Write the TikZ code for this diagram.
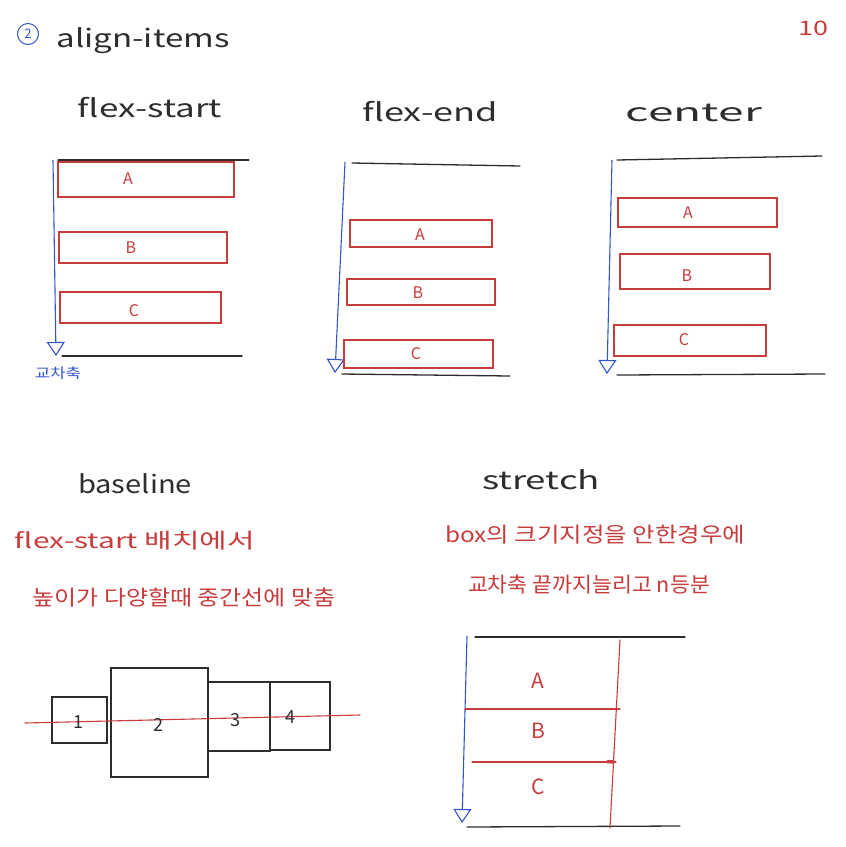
\documentclass[tikz,border=0pt]{standalone}
\usepackage{fontspec}
\usepackage{graphicx}
\setmainfont{Noto Sans CJK KR}
\usetikzlibrary{arrows.meta}
\definecolor{pen}{RGB}{45,45,45}
\definecolor{redp}{RGB}{200,60,60}
\definecolor{bluep}{RGB}{50,85,200}
\newcommand{\fitx}[2]{\resizebox{#1pt}{\height}{#2}}
\tikzset{
  blk/.style={draw=pen,line width=1.3pt,line cap=round},
  redl/.style={draw=redp,line width=1.1pt,line cap=round},
  rbox/.style={draw=redp,line width=1.1pt,inner sep=0pt},
  kbox/.style={draw=pen,line width=1.3pt,inner sep=0pt},
  axis/.style={draw=bluep,line width=1.1pt,-{Triangle[open,length=14pt,width=18pt,line width=1.1pt]}},
  title/.style={inner sep=0pt,text=pen,font=\fontsize{25}{25}\selectfont},
  note/.style={inner sep=0pt,text=redp,font=\fontsize{21}{21}\selectfont},
  lab/.style={inner sep=0pt,text=redp,font=\fontsize{16}{16}\selectfont},
  big/.style={inner sep=0pt,text=pen,font=\fontsize{18}{18}\selectfont},
  bigr/.style={inner sep=0pt,text=redp,font=\fontsize{21}{21}\selectfont}
}
\begin{document}
\begin{tikzpicture}[x=1pt,y=-1pt]
\useasboundingbox[fill=white] (0,0) rectangle (846,847);

% heading
\node[circle,draw=bluep,line width=1pt,inner sep=0pt,minimum size=21pt,text=bluep,font=\fontsize{13}{13}\selectfont] (num) at (28,34) {2};
\node[title] (head) at (143,41) {\fitx{173}{align-items}};
\node[inner sep=0pt,text=redp,font=\fontsize{20}{20}\selectfont] (page) at (813,28) {\fitx{30}{10}};

% ---------- flex-start ----------
\node[title] (t1) at (150,108) {\fitx{144}{flex-start}};
\coordinate (fsT1) at (58,160); \coordinate (fsT2) at (249,160);
\coordinate (fsB1) at (62,356); \coordinate (fsB2) at (242,356);
\draw[blk] (fsT1) -- (fsT2);
\draw[blk] (fsB1) -- (fsB2);
\coordinate (fsX1) at (53,160); \coordinate (fsX2) at (56,356);
\draw[axis] (fsX1) -- (fsX2);
\node[rbox,minimum width=176pt,minimum height=35pt] (fsA) at (146,179.5) {};
\node[rbox,minimum width=168pt,minimum height=31pt] (fsB) at (143,247.5) {};
\node[rbox,minimum width=161pt,minimum height=31pt] (fsC) at (140.5,307.5) {};
\node[lab] (fsAl) at (128,179) {A};
\node[lab] (fsBl) at (131,248) {B};
\node[lab] (fsCl) at (134,311) {C};
\node[inner sep=0pt,text=bluep,font=\fontsize{14}{14}\selectfont] (cross) at (58,373) {\fitx{46}{교차축}};

% ---------- flex-end ----------
\node[title] (t2) at (430,112) {\fitx{136}{flex-end}};
\coordinate (feT1) at (352,163); \coordinate (feT2) at (520,166);
\coordinate (feB1) at (342,374); \coordinate (feB2) at (510,376);
\draw[blk] (feT1) -- (feT2);
\draw[blk] (feB1) -- (feB2);
\coordinate (feX1) at (345,162); \coordinate (feX2) at (335,373);
\draw[axis] (feX1) -- (feX2);
\node[rbox,minimum width=142pt,minimum height=27pt] (feA) at (421,233.5) {};
\node[rbox,minimum width=148pt,minimum height=26pt] (feB) at (421,292) {};
\node[rbox,minimum width=149pt,minimum height=28pt] (feC) at (418.5,354) {};
\node[lab] (feAl) at (420,235) {A};
\node[lab] (feBl) at (418,293) {B};
\node[lab] (feCl) at (416,354) {C};

% ---------- center ----------
\node[title] (t3) at (694,113) {\fitx{136}{center}};
\coordinate (ceT1) at (617,160); \coordinate (ceT2) at (822,156);
\coordinate (ceB1) at (617,375); \coordinate (ceB2) at (825,374);
\draw[blk] (ceT1) -- (ceT2);
\draw[blk] (ceB1) -- (ceB2);
\coordinate (ceX1) at (612,160); \coordinate (ceX2) at (607,374);
\draw[axis] (ceX1) -- (ceX2);
\node[rbox,minimum width=159pt,minimum height=29pt] (ceA) at (697.5,212.5) {};
\node[rbox,minimum width=150pt,minimum height=35pt] (ceB) at (695,271.5) {};
\node[rbox,minimum width=152pt,minimum height=31pt] (ceC) at (690,340.5) {};
\node[lab] (ceAl) at (688,213) {A};
\node[lab] (ceBl) at (687,276) {B};
\node[lab] (ceCl) at (684,340) {C};

% ---------- baseline ----------
\node[title] (t4) at (135,484) {\fitx{114}{baseline}};
\node[note] (d1) at (135,541) {\fitx{240}{flex-start 배치에서}};
\node[note] (d2) at (184,598) {\fitx{303}{높이가 다양할때 중간선에 맞춤}};
\node[kbox,minimum width=55pt,minimum height=46pt] (b1) at (79.5,720) {};
\node[kbox,minimum width=97pt,minimum height=109pt] (b2) at (159.5,722.5) {};
\node[kbox,minimum width=62pt,minimum height=69pt] (b3) at (239,716.5) {};
\node[kbox,minimum width=60pt,minimum height=68pt] (b4) at (300,716) {};
\coordinate (bl1) at (25,723); \coordinate (bl2) at (360,715);
\draw[redl] (bl1) -- (bl2);
\node[big] (b1l) at (78,722) {1};
\node[big] (b2l) at (158,725) {2};
\node[big] (b3l) at (235,720) {3};
\node[big] (b4l) at (290,717) {4};

% ---------- stretch ----------
\node[title] (t5) at (541,480) {\fitx{118}{stretch}};
\node[note] (d3) at (595,535) {\fitx{300}{box의 크기지정을 안한경우에}};
\node[note] (d4) at (589,585) {\fitx{242}{교차축 끝까지늘리고 n등분}};
\coordinate (stT1) at (475,637); \coordinate (stT2) at (685,637);
\coordinate (stB1) at (467,827); \coordinate (stB2) at (680,826);
\draw[blk] (stT1) -- (stT2);
\draw[blk] (stB1) -- (stB2);
\coordinate (stX1) at (467,636); \coordinate (stX2) at (462,823);
\draw[axis] (stX1) -- (stX2);
\coordinate (sv1) at (620,640); \coordinate (sv2) at (610,828);
\draw[redl] (sv1) -- (sv2);
\coordinate (sh1a) at (465,709); \coordinate (sh1b) at (620,709);
\draw[redl] (sh1a) -- (sh1b);
\coordinate (sh2a) at (472,762); \coordinate (sh2b) at (616,762);
\draw[redl] (sh2a) -- (sh2b);
\coordinate (mk1) at (607,761.5); \coordinate (mk2) at (614,762);
\draw[draw=redp,line width=3.5pt] (mk1) -- (mk2);
\node[bigr] (sAl) at (538,681) {A};
\node[bigr] (sBl) at (538,731) {B};
\node[bigr] (sCl) at (538,787) {C};
\end{tikzpicture}
\end{document}
